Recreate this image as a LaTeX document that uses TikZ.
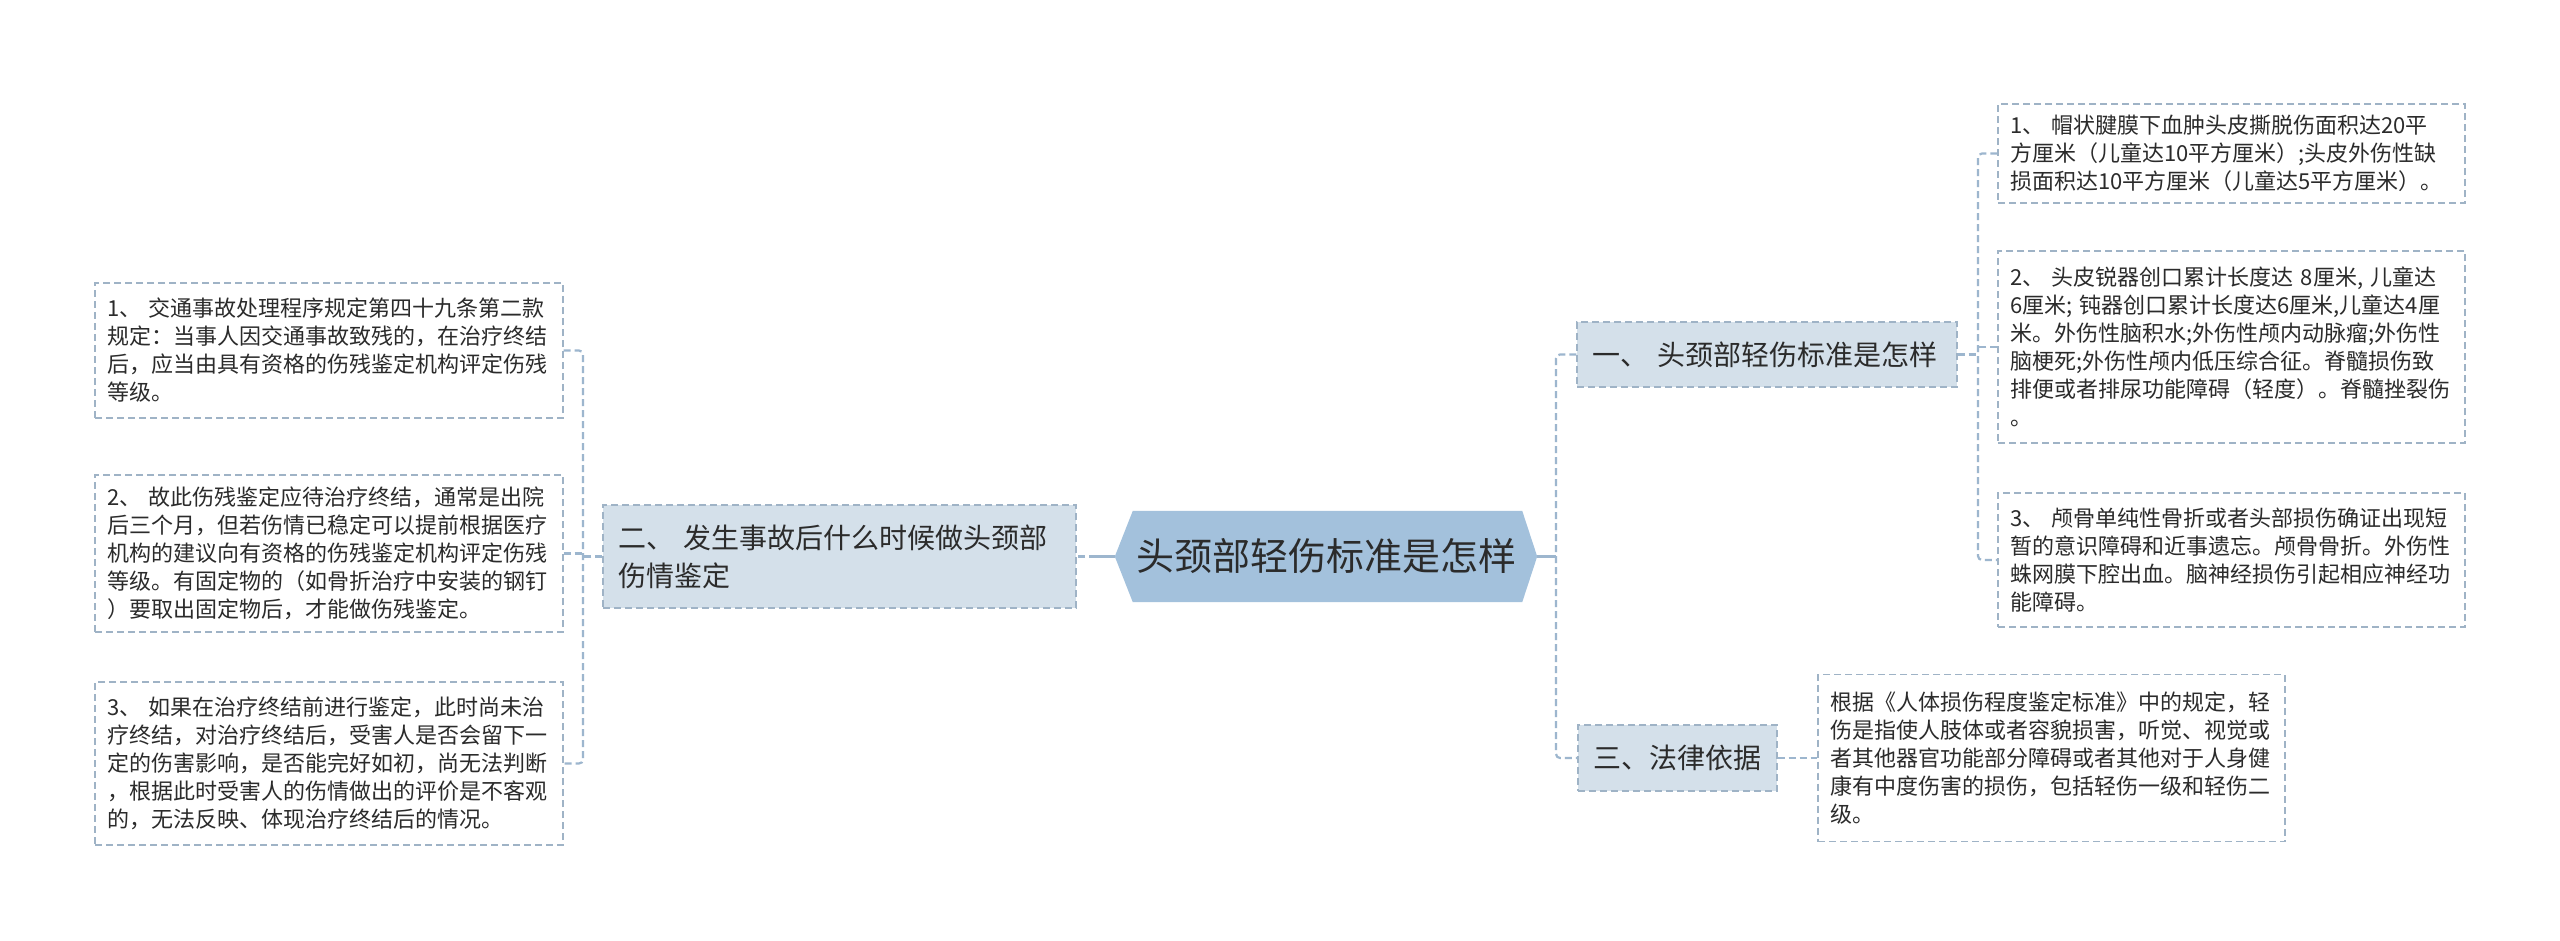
\documentclass[tikz,border=0pt]{standalone}
\usepackage{fontspec}
\setmainfont{Noto Sans CJK SC}
\usetikzlibrary{backgrounds,calc}
\definecolor{cfill}{HTML}{A3C1DC}
\definecolor{bfill}{HTML}{D4E0EA}
\definecolor{bord}{HTML}{9FB3C6}
\definecolor{lnk}{HTML}{9DB6CE}
\definecolor{txt}{HTML}{2B2B2B}
\begin{document}
\begin{tikzpicture}[x=1pt,y=-1pt,
 leaf/.style={draw=bord, line width=1.3pt, dash pattern=on 7pt off 4pt, fill=white, inner xsep=12pt, inner ysep=0pt, align=left, text=txt, font=\fontsize{22}{28}\selectfont},
 branch/.style={draw=bord, line width=1.3pt, dash pattern=on 7pt off 4pt, fill=bfill, inner xsep=15pt, inner ysep=0pt, align=left, text=txt, font=\fontsize{28}{38}\selectfont},
 link/.style={draw=lnk, line width=2.2pt, dash pattern=on 7pt off 4pt, rounded corners=4pt},
 solidlink/.style={draw=lnk, line width=3pt}]
\begin{scope}[on background layer]
\fill[white] (0,0) rectangle (2560,940);
\end{scope}
\useasboundingbox (0,0) rectangle (2560,940);

% central topic
\node[font=\fontsize{38}{44}\selectfont, text=txt, minimum width=422pt, minimum height=91pt, inner sep=0pt] (c) at (1326,556.5) {头颈部轻伤标准是怎样};
\begin{scope}[on background layer]
\fill[cfill] (c.west) -- ($(c.north west)+(18,0)$) -- ($(c.north east)+(-15,0)$) -- (c.east) -- ($(c.south east)+(-15,0)$) -- ($(c.south west)+(18,0)$) -- cycle;
\end{scope}

% branches
\node[branch, text width=443pt, minimum height=103pt] (b2) at (839.5,556.5) {二、 发生事故后什么时候做头颈部\\伤情鉴定};
\node[branch, text width=350pt, minimum height=65pt] (b1) at (1767,354.5) {一、 头颈部轻伤标准是怎样};
\node[branch, text width=169pt, minimum height=66pt] (b3) at (1677.5,758) {三、法律依据};

% left leaves
\node[leaf, text width=444pt, minimum height=135pt] (l1) at (329,350.5) {1、 交通事故处理程序规定第四十九条第二款\\规定：当事人因交通事故致残的，在治疗终结\\后，应当由具有资格的伤残鉴定机构评定伤残\\等级。};
\node[leaf, text width=444pt, minimum height=157pt] (l2) at (329,553.5) {2、 故此伤残鉴定应待治疗终结，通常是出院\\后三个月，但若伤情已稳定可以提前根据医疗\\机构的建议向有资格的伤残鉴定机构评定伤残\\等级。有固定物的（如骨折治疗中安装的钢钉\\）要取出固定物后，才能做伤残鉴定。};
\node[leaf, text width=444pt, minimum height=163pt] (l3) at (329,763.5) {3、 如果在治疗终结前进行鉴定，此时尚未治\\疗终结，对治疗终结后，受害人是否会留下一\\定的伤害影响，是否能完好如初，尚无法判断\\，根据此时受害人的伤情做出的评价是不客观\\的，无法反映、体现治疗终结后的情况。};

% right leaves
\node[leaf, text width=443pt, minimum height=99pt] (r1) at (2231.5,153.5) {1、 帽状腱膜下血肿头皮撕脱伤面积达20平\\方厘米（儿童达10平方厘米）;头皮外伤性缺\\损面积达10平方厘米（儿童达5平方厘米）。};
\node[leaf, text width=443pt, minimum height=192pt] (r2) at (2231.5,347) {2、 头皮锐器创口累计长度达 8厘米, 儿童达\\6厘米; 钝器创口累计长度达6厘米,儿童达4厘\\米。外伤性脑积水;外伤性颅内动脉瘤;外伤性\\脑梗死;外伤性颅内低压综合征。脊髓损伤致\\排便或者排尿功能障碍（轻度）。脊髓挫裂伤\\。};
\node[leaf, text width=443pt, minimum height=134pt] (r3) at (2231.5,560) {3、 颅骨单纯性骨折或者头部损伤确证出现短\\暂的意识障碍和近事遗忘。颅骨骨折。外伤性\\蛛网膜下腔出血。脑神经损伤引起相应神经功\\能障碍。};
\node[leaf, text width=443pt, minimum height=167pt] (law) at (2051.5,758) {根据《人体损伤程度鉴定标准》中的规定，轻\\伤是指使人肢体或者容貌损害，听觉、视觉或\\者其他器官功能部分障碍或者其他对于人身健\\康有中度伤害的损伤，包括轻伤一级和轻伤二\\级。};

% junctions
\coordinate (jC) at (1096,556.5);
\coordinate (jL) at (583,556.5);
\coordinate (jR) at (1556,556.5);
\coordinate (j1) at (1978,354.5);

% connectors
\draw[solidlink] (c.west) -- (jC);
\draw[link] (jC) -- (b2.east);
\draw[link] (b2.west) -- (jL);
\draw[link] (l1.east) -| (jL) |- (l3.east);
\draw[link] (l2.east) -- (l2.east -| jL);

\draw[solidlink] (c.east) -- (jR);
\draw[link] (b1.west) -| (jR) |- (b3.west);

\draw[link] (b1.east) -- (j1);
\draw[link] (r1.west) -| (j1) |- (r3.west);
\draw[link] (r2.west) -- (r2.west -| j1);

\draw[link] (b3.east) -- (law.west);
\end{tikzpicture}
\end{document}
